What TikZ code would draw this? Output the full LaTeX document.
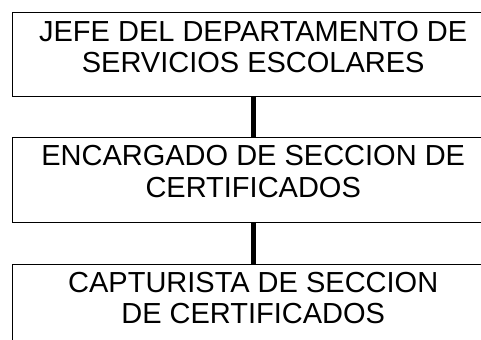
\documentclass[tikz,border=0pt]{standalone}
\usepackage{fontspec}
\setmainfont{Liberation Sans}
\begin{document}
\begin{tikzpicture}[x=1bp,y=-1bp,
  box/.style={draw,line width=1.4bp,minimum width=481bp,inner sep=0,anchor=north west},
  lbl/.style={inner sep=0,anchor=north,align=center,font=\fontsize{29bp}{31.5bp}\selectfont},
  link/.style={line width=5bp}]
\useasboundingbox (0,0) rectangle (481,339);
\begin{scope}
\clip (0,0) rectangle (481,339);
\node[box,minimum height=84bp] (b1) at (12,12) {};
\node[box,minimum height=85bp] (b2) at (12,137) {};
\node[box,minimum height=95bp] (b3) at (12,264) {};
\node[lbl] (t1) at ([yshift=-8.7bp]b1.north) {JEFE DEL DEPARTAMENTO DE\\SERVICIOS ESCOLARES};
\node[lbl] (t2) at ([yshift=-8.2bp]b2.north) {ENCARGADO DE SECCION DE\\CERTIFICADOS};
\node[lbl] (t3) at ([yshift=-7.8bp]b3.north) {CAPTURISTA DE SECCION\\DE CERTIFICADOS};
\draw[link] (b1.south) -- (b2.north);
\draw[link] (b2.south) -- (b3.north);
\end{scope}
\end{tikzpicture}
\end{document}
